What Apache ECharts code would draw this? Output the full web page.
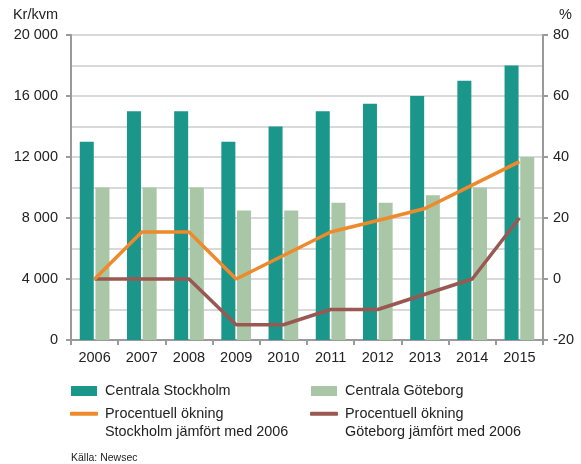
<!DOCTYPE html>
<html>
<head>
<meta charset="utf-8">
<script src="https://cdn.jsdelivr.net/npm/echarts@6/dist/echarts.min.js"></script>
<style>
  html, body { margin: 0; padding: 0; background: #fff; }
  #chart { width: 581px; height: 464px; }
</style>
</head>
<body>
<div id="chart"></div>
<script>
// Price per square metre (kr/kvm) and percentage change since 2006
const years = ['2006', '2007', '2008', '2009', '2010', '2011', '2012', '2013', '2014', '2015'];
const stockholmPrice = [13000, 15000, 15000, 13000, 14000, 15000, 15500, 16000, 17000, 18000];
const goteborgPrice = [10000, 10000, 10000, 8500, 8500, 9000, 9000, 9500, 10000, 12000];
const stockholmChange = [0, 15.4, 15.4, 0, 7.7, 15.4, 19.2, 23.1, 30.8, 38.5];
const goteborgChange = [0, 0, 0, -15, -15, -10, -10, -5, 0, 20];

const FONT = 'Liberation Sans';
const TEXT = '#222';
const AXIS = '#9a9a9a';

const names = {
  sthlmBar: 'Centrala Stockholm',
  gbgBar: 'Centrala Göteborg',
  sthlmLine: 'Procentuell ökning\nStockholm jämfört med 2006',
  gbgLine: 'Procentuell ökning\nGöteborg jämfört med 2006'
};
const colors = {
  sthlmBar: '#1a968a',
  gbgBar: '#a9c7a6',
  sthlmLine: '#ee8a2c',
  gbgLine: '#9a5852'
};

function barLegend(name, left) {
  return {
    data: [name], left: left, top: 384, orient: 'vertical', padding: 0,
    itemWidth: 26, itemHeight: 10, itemGap: 0, icon: 'rect',
    textStyle: { fontFamily: FONT, fontSize: 14.4, color: TEXT, padding: [0, 0, 0, 3] },
    selectedMode: false
  };
}
// Two-line label: a blank leading line keeps the icon level with the first line
function lineLegend(name, left) {
  return {
    data: [name], left: left, top: 386, orient: 'vertical', padding: 0,
    itemWidth: 28, itemHeight: 4, itemGap: 0, icon: 'roundRect',
    formatter: n => '\u00a0\n' + n,
    textStyle: { fontFamily: FONT, fontSize: 14.4, color: TEXT, lineHeight: 18.5, padding: [0, 0, 0, 2] },
    selectedMode: false
  };
}

const chart = echarts.init(document.getElementById('chart'), null, { renderer: 'canvas' });
chart.setOption({
  animation: false,
  textStyle: { fontFamily: FONT },
  grid: { left: 71, right: 38, top: 35, bottom: 124 },
  legend: [
    barLegend(names.sthlmBar, 71),
    barLegend(names.gbgBar, 311),
    lineLegend(names.sthlmLine, 70),
    lineLegend(names.gbgLine, 310)
  ],
  xAxis: {
    type: 'category',
    data: years,
    boundaryGap: true,
    axisLine: { lineStyle: { color: AXIS, width: 2 } },
    axisTick: { show: true, length: 5, lineStyle: { color: AXIS, width: 2 } },
    axisLabel: { color: TEXT, fontSize: 14.5, margin: 10, fontFamily: FONT }
  },
  yAxis: [
    {
      type: 'value', min: 0, max: 20000, interval: 4000,
      name: 'Kr/kvm', nameLocation: 'end', nameGap: 20,
      nameTextStyle: { color: TEXT, fontSize: 14.5, align: 'right', verticalAlign: 'middle', padding: [0, 13, 0, 0], fontFamily: FONT },
      axisLine: { show: true, lineStyle: { color: AXIS, width: 2 } },
      axisTick: { show: true, length: 5, lineStyle: { color: AXIS, width: 2 } },
      axisLabel: {
        color: TEXT, fontSize: 14.5, margin: 13, fontFamily: FONT,
        formatter: v => v >= 1000 ? String(v).replace(/(\d+)(\d{3})$/, '$1 $2') : String(v)
      },
      splitLine: { show: true, lineStyle: { color: '#d9d9d9', width: 2 } },
      minorTick: { show: false, splitNumber: 2 },
      minorSplitLine: { show: true, lineStyle: { color: '#d9d9d9', width: 2 } }
    },
    {
      type: 'value', min: -20, max: 80, interval: 20,
      name: '%', nameLocation: 'end', nameGap: 20,
      nameTextStyle: { color: TEXT, fontSize: 14.5, align: 'left', verticalAlign: 'middle', padding: [0, 0, 0, 16], fontFamily: FONT },
      axisLine: { show: true, lineStyle: { color: AXIS, width: 2 } },
      axisTick: { show: true, length: 5, lineStyle: { color: AXIS, width: 2 } },
      axisLabel: { color: TEXT, fontSize: 14.5, margin: 10, fontFamily: FONT },
      splitLine: { show: false }
    }
  ],
  series: [
    {
      name: names.sthlmBar, type: 'bar', data: stockholmPrice,
      barWidth: 14, barGap: '12%',
      itemStyle: { color: colors.sthlmBar }
    },
    {
      name: names.gbgBar, type: 'bar', data: goteborgPrice,
      barWidth: 14, barGap: '12%',
      itemStyle: { color: colors.gbgBar }
    },
    {
      name: names.sthlmLine, type: 'line', yAxisIndex: 1, data: stockholmChange,
      symbol: 'none', lineStyle: { color: colors.sthlmLine, width: 3.5 },
      itemStyle: { color: colors.sthlmLine }, z: 5
    },
    {
      name: names.gbgLine, type: 'line', yAxisIndex: 1, data: goteborgChange,
      symbol: 'none', lineStyle: { color: colors.gbgLine, width: 3.5 },
      itemStyle: { color: colors.gbgLine }, z: 4
    }
  ],
  graphic: [
    {
      type: 'text', left: 71, top: 453,
      style: { text: 'Källa: Newsec', fontFamily: FONT, fontSize: 10.5, fill: TEXT }
    }
  ]
});
</script>
</body>
</html>
